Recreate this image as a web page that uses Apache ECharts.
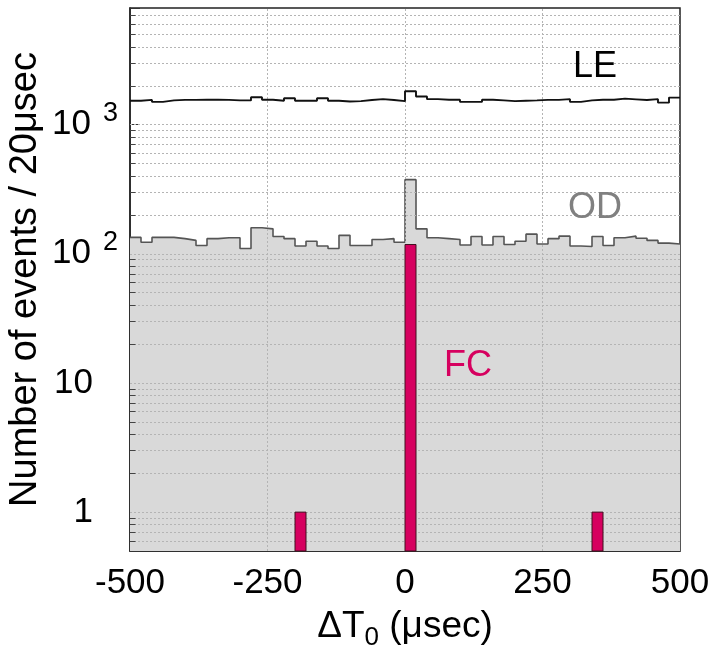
<!DOCTYPE html>
<html><head><meta charset="utf-8">
<script src="https://cdn.jsdelivr.net/npm/echarts@6/dist/echarts.min.js"></script>
<style>html,body{margin:0;padding:0;background:#fff}#c{width:711px;height:647px}</style>
</head><body><div id="c"></div>
<script>
// bin edges in microseconds (20 usec bins)
const binEdges = [-500,-480,-460,-440,-420,-400,-380,-360,-340,-320,-300,-280,-260,-240,-220,-200,-180,-160,-140,-120,-100,-80,-60,-40,-20,0,20,40,60,80,100,120,140,160,180,200,220,240,260,280,300,320,340,360,380,400,420,440,460,480,500];
// LE (low-energy) counts per bin
const leCounts = [1530,1555,1500,1540,1555,1555,1560,1560,1555,1540,1540,1630,1560,1530,1600,1530,1530,1600,1530,1510,1520,1550,1575,1550,1520,1815,1650,1575,1560,1560,1500,1500,1560,1540,1520,1530,1540,1555,1555,1575,1500,1540,1560,1560,1590,1570,1550,1575,1480,1620];
// OD counts per bin
const odCounts = [134,123,134,134,131,127,116,131,133,133,110,159,156,136,131,115,125,115,110,139,116,116,129,131,123,375,156,133,131,129,117,136,117,136,118,125,142,119,131,137,115,114,136,116,133,137,132,127,121,119];
// FC events: bin left edges and counts
const fcBinStart = [-200, 0, 340];
const fcCounts = [1, 118, 1];
// axes
const xMin = -500, xMax = 500, xInterval = 250;
const yMin = 0.5, yMax = 8000;
const yMajor = [1, 10, 100, 1000];
const yMinor = [0.6,0.7,0.8,0.9,2,3,4,5,6,7,8,9,20,30,40,50,60,70,80,90,200,300,400,500,600,700,800,900,2000,3000,4000,5000,6000,7000];
const xGrid = [-250, 0, 250];

const FONT = 'Liberation Sans, Arial, Helvetica, sans-serif';
const binW = binEdges[1] - binEdges[0];

const stepData = counts => binEdges.map((x, i) => [x, counts[Math.min(i, counts.length - 1)]]);

const gridStyle = {color: '#b4b4b4', width: 1, type: [2, 2]};
const markGrid = [];
yMinor.concat(yMajor).forEach(v => markGrid.push({yAxis: v, lineStyle: gridStyle}));
xGrid.forEach(v => markGrid.push({xAxis: v, lineStyle: gridStyle}));
// short minor ticks on the left axis
yMinor.forEach(v => markGrid.push([{coord: [xMin, v], lineStyle: {color: '#444', width: 1, type: 'solid'}}, {coord: [xMin + 10, v]}]));

const fcData = fcBinStart.map((s, i) => [s, s + binW, fcCounts[i]]);

const chart = echarts.init(document.getElementById('c'), null, {renderer: 'canvas'});
chart.setOption({
  animation: false,
  backgroundColor: '#fff',
  textStyle: {fontFamily: FONT},
  grid: {left: 130, right: 31, top: 8, bottom: 96, containLabel: false, outerBoundsMode: 'none',
    show: true, borderColor: '#222', borderWidth: 1.5, backgroundColor: 'transparent'},
  xAxis: {
    type: 'value', min: xMin, max: xMax, interval: xInterval,
    axisLine: {show: true, onZero: false, lineStyle: {color: '#222', width: 1.5}},
    axisTick: {show: true, inside: true, length: 8, lineStyle: {color: '#555'}},
    minorTick: {show: true, splitNumber: 5, length: 6, lineStyle: {color: '#777'}},
    splitLine: {show: false},
    axisLabel: {fontSize: 35, color: '#000', margin: 15, fontFamily: FONT},
    name: 'ΔT{sub|0} (μsec)', nameLocation: 'middle', nameGap: 52, nameMoveOverlap: false,
    nameTextStyle: {fontSize: 37, color: '#000', fontFamily: FONT,
      rich: {sub: {fontSize: 26, padding: [22, 0, 0, 0], fontFamily: FONT, color: '#000'}}}
  },
  yAxis: {
    type: 'log', logBase: 10, min: yMin, max: yMax,
    axisLine: {show: true, onZero: false, lineStyle: {color: '#222', width: 1.5}},
    axisTick: {show: true, inside: true, length: 10, lineStyle: {color: '#333'}},
    splitLine: {show: false},
    axisLabel: {
      margin: 12, color: '#000', fontSize: 35, fontFamily: FONT,
      formatter: v => {
        const e = Math.log10(v);
        if (Math.abs(e - Math.round(e)) > 1e-6 || e < -0.1) return '';
        const k = Math.round(e);
        if (k === 0) return '{n|1}';
        if (k === 1) return '{n|10}';
        return '{m|10}{s|' + k + '}';
      },
      rich: {
        n: {fontSize: 35, fontFamily: FONT, color: '#000', padding: [0, 25, 0, 0]},
        m: {fontSize: 35, fontFamily: FONT, color: '#000', padding: [0, 12, 0, 0]},
        s: {fontSize: 27, fontFamily: FONT, color: '#000', padding: [0, 0, 22, 0]}
      }
    },
    name: 'Number of events / 20μsec', nameLocation: 'middle', nameGap: 85, nameMoveOverlap: false,
    nameTextStyle: {fontSize: 38, color: '#000', fontFamily: FONT}
  },
  series: [
    {
      name: 'OD', type: 'line', step: 'end', data: stepData(odCounts), symbol: 'none', z: 2,
      lineStyle: {color: '#555', width: 1.6},
      areaStyle: {color: '#d9d9d9', opacity: 1, origin: 'start'},
      markLine: {silent: true, symbol: ['none', 'none'], label: {show: false}, animation: false, z: 5,
        emphasis: {disabled: true}, data: markGrid}
    },
    {
      name: 'FC', type: 'custom', z: 6, data: fcData,
      encode: {x: [0, 1], y: 2},
      renderItem: (params, api) => {
        const p0 = api.coord([api.value(0), api.value(2)]);
        const p1 = api.coord([api.value(1), yMin]);
        return {type: 'rect', shape: {x: p0[0], y: p0[1], width: p1[0] - p0[0], height: p1[1] - p0[1]},
          style: {fill: '#d6005f', stroke: '#40101f', lineWidth: 1}};
      }
    },
    {
      name: 'LE', type: 'line', step: 'end', data: stepData(leCounts), symbol: 'none', z: 7,
      lineStyle: {color: '#111', width: 1.9}
    }
  ],
  graphic: [
    {type: 'text', left: 573, top: 49, z: 10, style: {text: 'LE', fontSize: 36, fill: '#000', fontFamily: FONT}},
    {type: 'text', left: 568, top: 190, z: 10, style: {text: 'OD', fontSize: 36, fill: '#808080', fontFamily: FONT}},
    {type: 'text', left: 444, top: 348, z: 10, style: {text: 'FC', fontSize: 36, fill: '#d6005f', fontFamily: FONT}}
  ]
});
</script>
</body></html>
